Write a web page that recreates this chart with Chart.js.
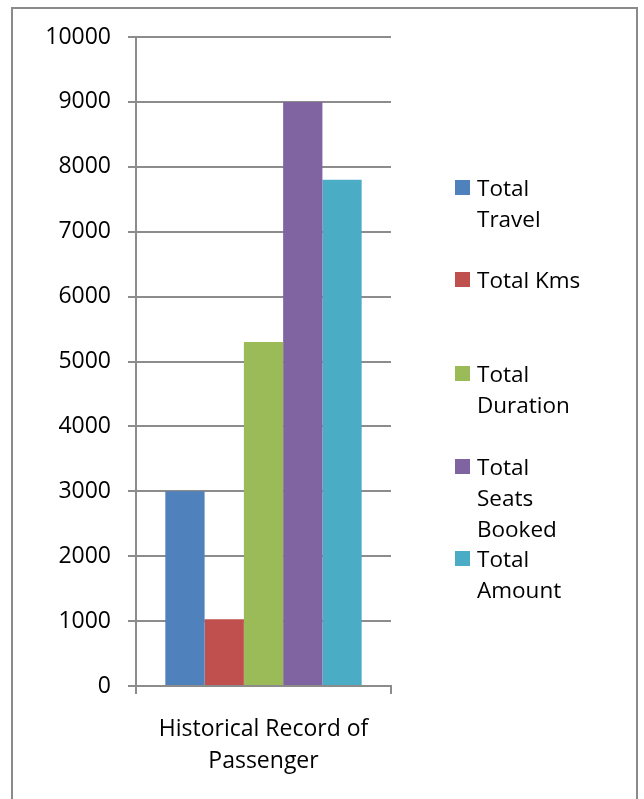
<!DOCTYPE html>
<html>
<head>
<meta charset="utf-8">
<script src="https://cdn.jsdelivr.net/npm/chart.js@4"></script>
<style>
  html, body { margin: 0; padding: 0; background: #fff; overflow: hidden; }
  #wrap { position: relative; width: 644px; height: 799px; }
</style>
</head>
<body>
<div id="wrap"><canvas id="c"></canvas></div>
<script>
// ---- data ----
const categories = [["Historical Record of", "Passenger"]];
const seriesNames = ["Total Travel", "Total Kms", "Total Duration", "Total Seats Booked", "Total Amount"];
const legendLines = [["Total", "Travel"], ["Total Kms"], ["Total", "Duration"], ["Total", "Seats", "Booked"], ["Total", "Amount"]];
const totalTravel = [3000];
const totalKms = [1030];
const totalDuration = [5300];
const totalSeatsBooked = [9000];
const totalAmount = [7800];
const yTicks = [0, 1000, 2000, 3000, 4000, 5000, 6000, 7000, 8000, 9000, 10000];
const seriesColors = ["#4F81BD", "#C0504D", "#9BBB59", "#8064A2", "#4BACC6"];

const seriesValues = [totalTravel, totalKms, totalDuration, totalSeatsBooked, totalAmount];
const FONT = "'Open Sans', 'Noto Sans', sans-serif";
const GRID = "#8c8c8c";

const frameAndLegend = {
  id: 'frameAndLegend',
  beforeDraw(chart) {
    const ctx = chart.ctx;
    ctx.save();
    ctx.strokeStyle = "#8a8a8a";
    ctx.lineWidth = 2;
    ctx.strokeRect(12, 8, 625, 820);
    ctx.restore();
  },
  afterDraw(chart) {
    const ctx = chart.ctx;
    ctx.save();
    ctx.font = "22.5px " + FONT;
    ctx.textBaseline = "alphabetic";
    ctx.textAlign = "left";
    const baselines = [196, 288, 382, 475, 567];
    chart.data.datasets.forEach((ds, i) => {
      const b = baselines[i];
      ctx.fillStyle = ds.backgroundColor;
      ctx.fillRect(455, b - 16, 15, 15);
      ctx.fillStyle = "#000";
      legendLines[i].forEach((t, j) => ctx.fillText(t, 477, b + j * 31));
    });
    ctx.restore();
  }
};

new Chart(document.getElementById('c'), {
  type: 'bar',
  data: {
    labels: categories,
    datasets: seriesNames.map((n, i) => ({
      label: n,
      data: seriesValues[i],
      backgroundColor: seriesColors[i],
      borderWidth: 0,
      categoryPercentage: 0.77,
      barPercentage: 1
    }))
  },
  options: {
    responsive: true,
    maintainAspectRatio: false,
    animation: false,
    layout: { padding: { left: 0, top: 37, right: 253, bottom: 0 } },
    plugins: { legend: { display: false }, tooltip: { enabled: false } },
    scales: {
      x: {
        offset: true,
        grid: { display: true, offset: true, drawOnChartArea: false, drawTicks: true, tickLength: 8, color: GRID, lineWidth: 2 },
        border: { display: true, color: GRID, width: 2 },
        ticks: { color: "#000", font: { family: FONT, size: 23, lineHeight: 1.38 }, padding: 20, maxRotation: 0 },
        afterFit(s) { s.height = 113; }
      },
      y: {
        min: 0, max: 10000,
        afterBuildTicks(s) { s.ticks = yTicks.map(v => ({ value: v })); },
        grid: { color: GRID, lineWidth: 2, tickLength: 8, drawTicks: true },
        border: { display: true, color: GRID, width: 2 },
        ticks: { color: "#000", font: { family: FONT, size: 23 }, padding: 17, callback: v => String(v) },
        afterFit(s) { s.width = 136; }
      }
    }
  },
  plugins: [frameAndLegend]
});
</script>
</body>
</html>
